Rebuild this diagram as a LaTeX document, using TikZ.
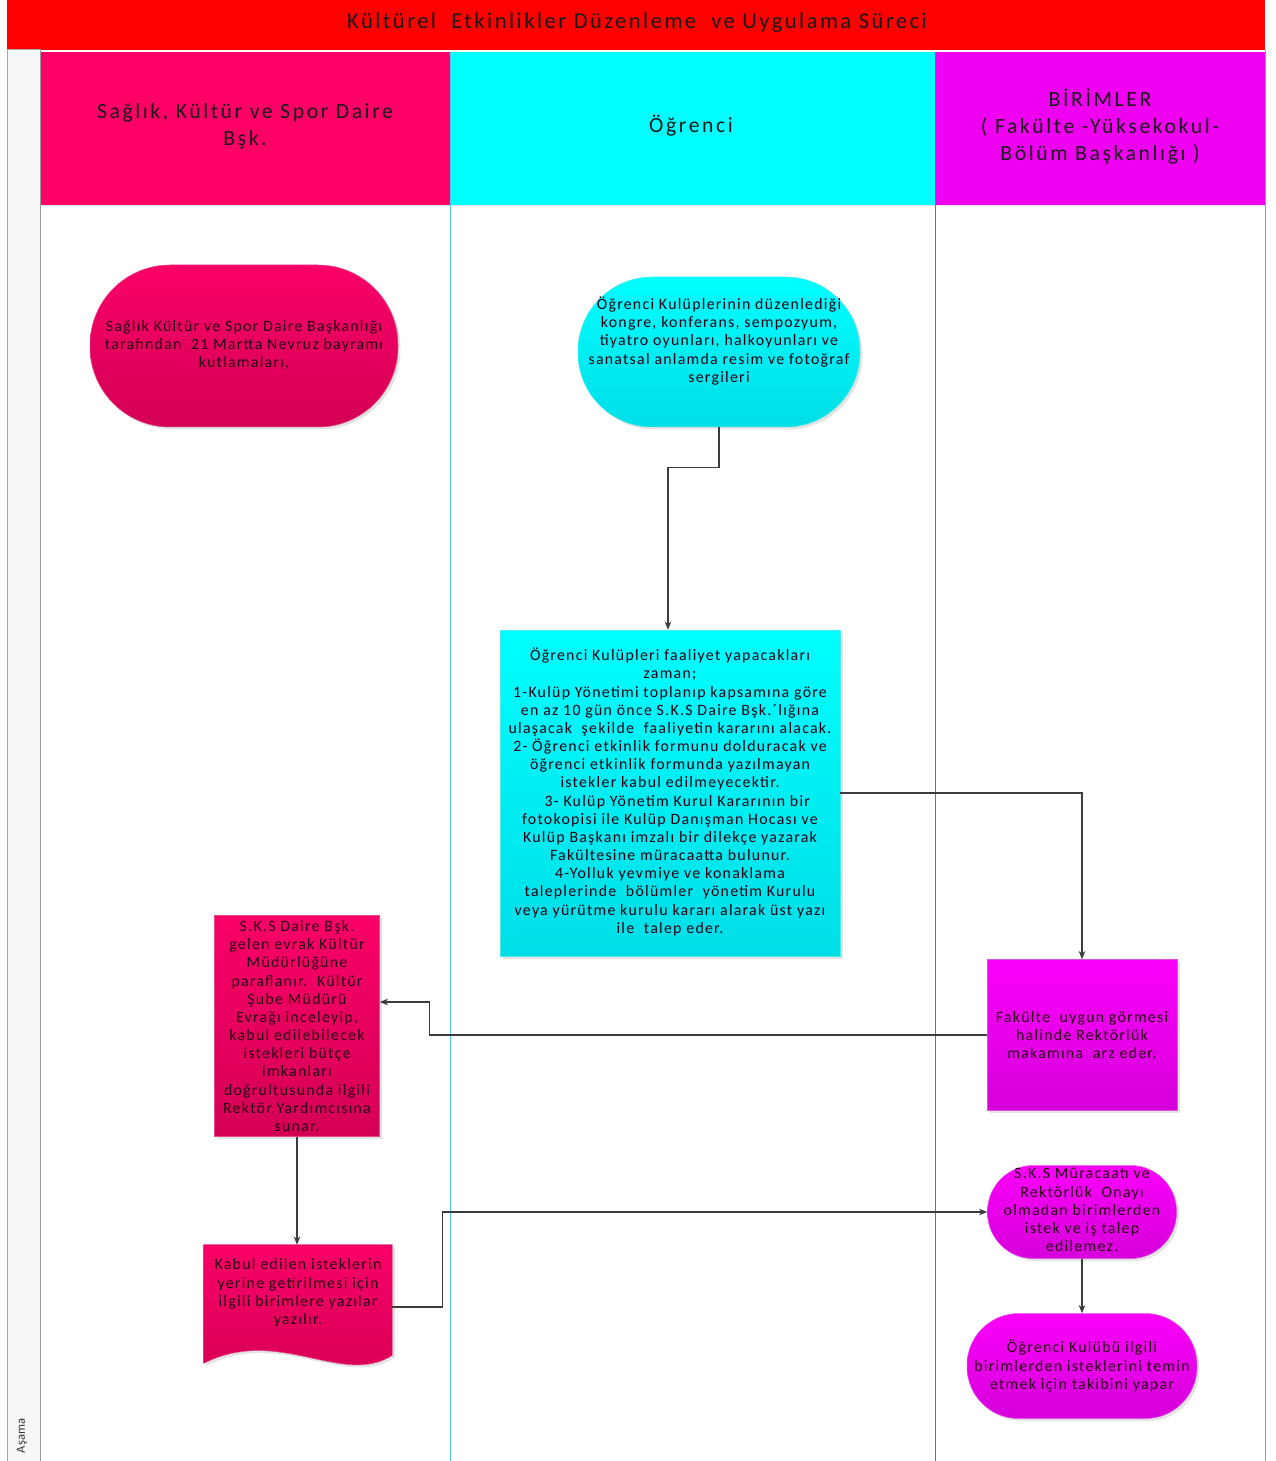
\documentclass[tikz,border=0pt]{standalone}
\usepackage{fontspec}
\setmainfont{Carlito}
\newfontfamily\nodefont{Carlito}[LetterSpace=8]
\newfontfamily\hdrfont{Carlito}[LetterSpace=12]
\newfontfamily\ttlfont{Carlito}[LetterSpace=11]
\usetikzlibrary{shadows,arrows.meta,calc}
\definecolor{hdrpink}{RGB}{255,0,102}
\definecolor{hdrcyan}{RGB}{0,255,255}
\definecolor{hdrmag}{RGB}{240,0,240}
\definecolor{pinkT}{RGB}{250,0,104}
\definecolor{pinkB}{RGB}{212,0,84}
\definecolor{cyanT}{RGB}{0,255,255}
\definecolor{cyanB}{RGB}{0,222,230}
\definecolor{magT}{RGB}{250,0,250}
\definecolor{magB}{RGB}{214,0,218}
\definecolor{txtc}{RGB}{40,0,20}
\definecolor{conncol}{RGB}{60,60,60}
\tikzset{
  txt/.style={align=center, text=txtc, font=\nodefont\fontsize{9.5}{10.9}\selectfont, inner sep=0pt},
  hdr/.style={align=center, text=black!90, font=\hdrfont\fontsize{13}{16.2}\selectfont, inner sep=0pt},
  pinkfill/.style={top color=pinkT, bottom color=pinkB, draw=pinkB!70!white, line width=0.3pt},
  cyanfill/.style={top color=cyanT, bottom color=cyanB, draw=cyanB!70!white, line width=0.3pt},
  magfill/.style={top color=magT, bottom color=magB, draw=magB!70!white, line width=0.3pt},
  shad/.style={drop shadow={opacity=0.22, shadow xshift=1.5pt, shadow yshift=-1.5pt}},
  conn/.style={draw=conncol, line width=0.65pt, -{Stealth[length=5pt,width=4pt]}},
}
\begin{document}
\begin{tikzpicture}[x=0.6pt,y=-0.6pt]
\useasboundingbox (0,0) rectangle (1275,1461);
\fill[white] (0,0) rectangle (1275,1461);
% title bar
\fill[red] (7,0) rectangle (1265,50);
\node[hdr, font=\ttlfont\fontsize{13.5}{16}\selectfont] (title) at (637,23) {Kültürel\ \ Etkinlikler Düzenleme\ \ ve Uygulama Süreci};
% Asama strip
\draw[gray!70, fill=gray!6, line width=0.6pt] (7,50) rectangle (40,1461);
\node[rotate=90, font=\fontsize{7.5}{8}\selectfont, text=black!80] (asama) at (22,1436) {Aşama};
% headers
\fill[hdrpink] (40,52) rectangle (450,205);
\fill[hdrcyan] (450,52) rectangle (935,205);
\fill[hdrmag] (935,52) rectangle (1265,205);
\draw[white!80!gray, line width=0.4pt] (40,205) -- (1265,205);
\node[hdr] (h1) at (245,126) {Sağlık, Kültür ve Spor Daire\\Bşk.};
\node[hdr] (h2) at (691,126) {Öğrenci};
\node[hdr] (h3) at (1100,127) {BİRİMLER\\( Fakülte -Yüksekokul-\\Bölüm Başkanlığı )};
% lane lines
\draw[cyan!70!white, line width=0.6pt] (450,52) -- (450,1461);
\draw[gray!90!black, line width=0.6pt] (935,52) -- (935,1461);
\draw[gray!80, line width=0.6pt] (1265,50) -- (1265,1461);
\draw[gray!80, line width=0.6pt] (40,50) -- (40,1461);

% node 1
\node[pinkfill, shad, rectangle, rounded corners=48pt, minimum width=184.8pt, minimum height=97.2pt] (n1) at (244,346) {};
\node[txt] (n1t) at (244,345) {Sağlık Kültür ve Spor Daire Başkanlığı\\tarafından\ \ 21 Martta Nevruz bayramı\\kutlamaları,};
% node 2
\node[cyanfill, shad, rectangle, rounded corners=44.5pt, minimum width=169.2pt, minimum height=90pt] (n2) at (719,352) {};
\node[txt] (n2t) at (719,341) {Öğrenci Kulüplerinin düzenlediği\\kongre, konferans, sempozyum,\\tiyatro oyunları, halkoyunları ve\\sanatsal anlamda resim ve fotoğraf\\sergileri};
% node 3
\node[cyanfill, shad, rectangle, minimum width=204pt, minimum height=195.6pt] (n3) at (670,793) {};
\node[txt] (n3t) at (670,792) {Öğrenci Kulüpleri faaliyet yapacakları\\zaman;\\1-Kulüp Yönetimi toplanıp kapsamına göre\\en az 10 gün önce S.K.S Daire Bşk.´lığına\\ulaşacak\ \ şekilde\ \ faaliyetin kararını alacak.\\2- Öğrenci etkinlik formunu dolduracak ve\\öğrenci etkinlik formunda yazılmayan\\istekler kabul edilmeyecektir.\\\ \ \ 3- Kulüp Yönetim Kurul Kararının bir\\fotokopisi ile Kulüp Danışman Hocası ve\\Kulüp Başkanı imzalı bir dilekçe yazarak\\Fakültesine müracaatta bulunur.\\4-Yolluk yevmiye ve konaklama\\taleplerinde\ \ bölümler\ \ yönetim Kurulu\\veya yürütme kurulu kararı alarak üst yazı\\ile\ \ talep eder.};
% node 4
\node[pinkfill, shad, rectangle, minimum width=99pt, minimum height=132.6pt] (n4) at (297,1026) {};
\node[txt] (n4t) at (297,1026) {S.K.S Daire Bşk.\\gelen evrak Kültür\\Müdürlüğüne\\paraflanır.\ \ Kültür\\Şube Müdürü\\Evrağı inceleyip,\\kabul edilebilecek\\istekleri bütçe\\imkanları\\doğrultusunda ilgili\\Rektör Yardımcısına\\sunar.};
% node 5
\node[magfill, shad, rectangle, minimum width=114pt, minimum height=90.6pt] (n5) at (1082,1035) {};
\node[txt] (n5t) at (1082,1035) {Fakülte\ \ uygun görmesi\\halinde Rektörlük\\makamına\ \ arz eder.};
% node 6 (document)
\node[rectangle, minimum width=112.8pt, minimum height=66pt, inner sep=0pt] (n6) at (298,1300) {};
\path[pinkfill, shad] (n6.north west) -- (n6.north east) -- (n6.south east)
  .. controls ($(n6.south east)+(-50,32)$) and ($(n6.south west)+(75,-30)$) .. ($(n6.south west)+(0,8)$) -- cycle;
\node[txt] (n6t) at (298,1293) {Kabul edilen isteklerin\\yerine getirilmesi için\\ilgili birimlere yazılar\\yazılır.};
% node 7
\node[magfill, shad, rectangle, rounded corners=27.5pt, minimum width=113.4pt, minimum height=55.8pt] (n7) at (1082,1212) {};
\node[txt] (n7t) at (1082,1210) {S.K.S Müracaatı ve\\Rektörlük\ \ Onayı\\olmadan birimlerden\\istek ve iş talep\\edilemez.};
% node 8
\node[magfill, shad, rectangle, rounded corners=31pt, minimum width=138pt, minimum height=63pt] (n8) at (1082,1366) {};
\node[txt] (n8t) at (1082,1366) {Öğrenci Kulübü ilgili\\birimlerden isteklerini temin\\etmek için takibini yapar};

% connectors
\draw[conn] (n2.south) -- ++(0,40) -| ($(n3.north)+(-2,0)$);
\draw[conn] (n3.east) -| (n5.north);
\draw[conn] (n5.west) -- ++(-557,0) |- ($(n4.east)+(0,-24)$);
\draw[conn] (n4.south) -- (n4.south |- n6.north);
\draw[conn] ($(n6.east)+(0,7)$) -- ++(50,0) |- (n7.west);
\draw[conn] (n7.south) -- (n8.north);
\end{tikzpicture}
\end{document}
